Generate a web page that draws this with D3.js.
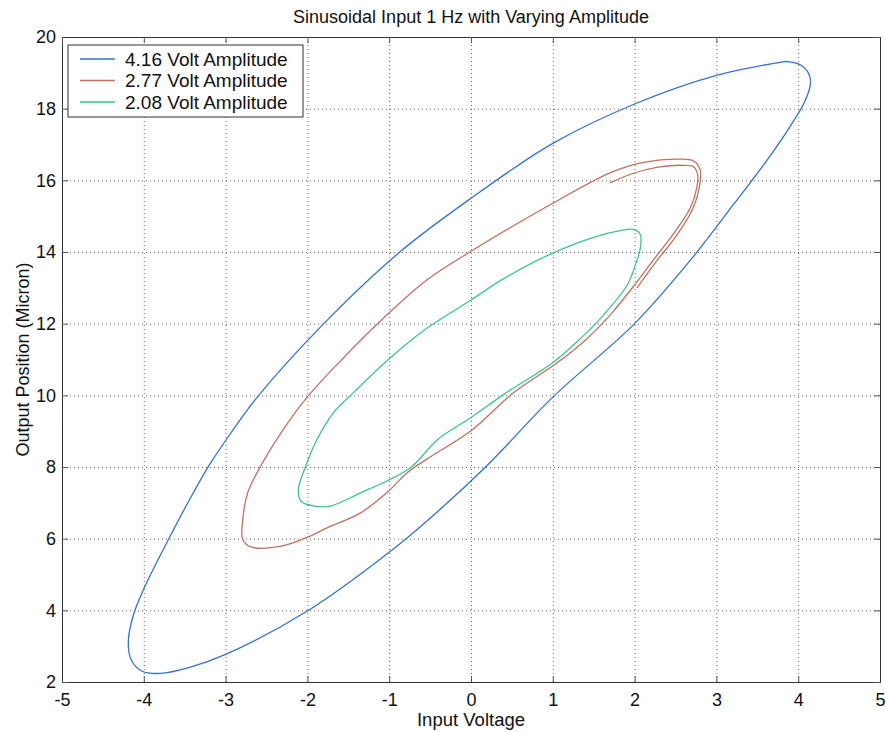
<!DOCTYPE html>
<html>
<head>
<meta charset="utf-8">
<script src="https://cdn.jsdelivr.net/npm/d3@7"></script>
<style>
  body { margin: 0; background: #fff; }
  svg text { font-family: "Liberation Sans", Arial, sans-serif; fill: #111; }
</style>
</head>
<body>
<div id="chart"></div>
<script>
// values: [input voltage, output position]
const amp416 = [[3.85,19.32],[4.03,19.22],[4.13,18.97],[4.15,18.7],[4.08,18.2],[3.9,17.5],[3.6,16.5],[3.2,15.3],[2.7,13.82],[2.0,12.0],[1.0,9.95],[0.2,8.05],[-0.5,6.57],[-1.0,5.62],[-2.0,3.98],[-3.0,2.77],[-3.45,2.4],[-3.8,2.24],[-4.02,2.3],[-4.15,2.6],[-4.19,3.1],[-4.13,3.85],[-4.0,4.6],[-3.7,5.97],[-3.45,7.05],[-3.2,8.05],[-2.95,8.9],[-2.63,9.9],[-1.8,12.0],[-0.87,14.0],[0,15.5],[1.0,17.03],[2.0,18.13],[3.0,18.93],[3.85,19.32]];

const amp277 = [[1.70,15.93],[1.95,16.17],[2.27,16.36],[2.59,16.42],[2.72,16.38],[2.77,16.17],[2.76,15.79],[2.68,15.23],[2.47,14.49],[2.23,13.78],[2.0,13.08],[1.70,12.24],[1.38,11.5],[1.05,10.9],[0.53,10.09],[0,9.01],[-0.54,8.22],[-0.78,7.84],[-1.03,7.28],[-1.35,6.72],[-1.76,6.30],[-2.02,6.02],[-2.32,5.79],[-2.69,5.77],[-2.79,5.97],[-2.79,6.53],[-2.73,7.28],[-2.57,8.03],[-2.32,8.96],[-2.02,9.90],[-1.60,10.95],[-1.03,12.24],[-0.54,13.22],[0,14.02],[1.0,15.36],[1.70,16.21],[2.11,16.50],[2.55,16.59],[2.72,16.54],[2.80,16.31],[2.79,15.79],[2.71,15.2],[2.51,14.45],[2.27,13.75],[2.03,13.0]];

const amp208 = [[1.91,14.63],[1.99,14.63],[2.07,14.49],[2.07,14.11],[2.01,13.64],[1.91,13.08],[1.62,12.24],[1.34,11.59],[1.01,10.93],[0.41,10.04],[0,9.38],[-0.40,8.78],[-0.74,7.98],[-1.03,7.61],[-1.35,7.28],[-1.72,6.91],[-1.92,6.91],[-2.08,7.05],[-2.11,7.38],[-2.02,8.03],[-1.88,8.78],[-1.68,9.52],[-1.43,10.09],[-1.0,11.02],[-0.54,11.87],[0,12.66],[0.41,13.27],[1.0,13.97],[1.62,14.49],[1.91,14.63]];

const seriesNames = ["4.16 Volt Amplitude", "2.77 Volt Amplitude", "2.08 Volt Amplitude"];
const seriesData = [amp416, amp277, amp208];
const seriesColors = ["#3272d4", "#c2705f", "#38c68c"];

const xTicks = [-5, -4, -3, -2, -1, 0, 1, 2, 3, 4, 5];
const yTicks = [2, 4, 6, 8, 10, 12, 14, 16, 18, 20];

const width = 886, height = 732;
const margin = {top: 37, right: 6, bottom: 50, left: 62};
const w = width - margin.left - margin.right,
      h = height - margin.top - margin.bottom;

const svg = d3.select("#chart").append("svg")
    .attr("width", width)
    .attr("height", height);

const g = svg.append("g")
    .attr("transform", `translate(${margin.left},${margin.top})`);

const x = d3.scaleLinear().domain([-5, 5]).range([0, w]);
const y = d3.scaleLinear().domain([2, 20]).range([h, 0]);

// dotted grid
g.append("g")
    .attr("transform", `translate(0,${h})`)
    .call(d3.axisBottom(x).tickValues(xTicks.slice(1, -1)).tickSize(-h).tickFormat(""))
    .call(s => s.select(".domain").remove())
    .selectAll("line")
    .attr("stroke", "#666")
    .attr("stroke-dasharray", "1,3");

g.append("g")
    .call(d3.axisLeft(y).tickValues(yTicks.slice(1, -1)).tickSize(-w).tickFormat(""))
    .call(s => s.select(".domain").remove())
    .selectAll("line")
    .attr("stroke", "#666")
    .attr("stroke-dasharray", "1,3");

// curves
const line = d3.line()
    .x(d => x(d[0]))
    .y(d => y(d[1]))
    .curve(d3.curveCatmullRom);

g.selectAll(".curve")
    .data(seriesData)
    .join("path")
    .attr("class", "curve")
    .attr("fill", "none")
    .attr("stroke", (d, i) => seriesColors[i])
    .attr("stroke-width", 1.3)
    .attr("d", line);

// axes with inward ticks (box on), plain hyphen minus like the original
const tickLen = 6;
const fmt = d => String(d);
const xAxis = g.append("g")
    .attr("transform", `translate(0,${h})`)
    .call(d3.axisBottom(x).tickValues(xTicks).tickSize(-tickLen).tickPadding(9).tickFormat(fmt));
const yAxis = g.append("g")
    .call(d3.axisLeft(y).tickValues(yTicks).tickSize(-tickLen).tickPadding(6).tickFormat(fmt));
const xTop = g.append("g")
    .call(d3.axisTop(x).tickValues(xTicks).tickSize(-tickLen).tickFormat(""));
const yRight = g.append("g")
    .attr("transform", `translate(${w},0)`)
    .call(d3.axisRight(y).tickValues(yTicks).tickSize(-tickLen).tickFormat(""));

[xAxis, yAxis, xTop, yRight].forEach(a => {
    a.select(".domain").attr("stroke", "#333").attr("stroke-width", 1);
    a.selectAll(".tick line").attr("stroke", "#555");
    a.selectAll("text")
        .style("font-family", "'Liberation Sans', Arial, sans-serif")
        .style("font-size", "18px")
        .attr("fill", "#111");
});
xAxis.selectAll("text").attr("dy", "0.85em");

// title and labels
svg.append("text")
    .attr("x", margin.left + w / 2)
    .attr("y", 23)
    .attr("text-anchor", "middle")
    .style("font-size", "18px")
    .text("Sinusoidal Input 1 Hz with Varying Amplitude");

svg.append("text")
    .attr("x", margin.left + w / 2)
    .attr("y", 726)
    .attr("text-anchor", "middle")
    .style("font-size", "18.5px")
    .text("Input Voltage");

svg.append("text")
    .attr("transform", `translate(29,${margin.top + h / 2}) rotate(-90)`)
    .attr("text-anchor", "middle")
    .style("font-size", "18px")
    .text("Output Position (Micron)");

// legend
const legend = g.append("g").attr("transform", "translate(6,8)");
legend.append("rect")
    .attr("width", 235)
    .attr("height", 72)
    .attr("fill", "#fff")
    .attr("stroke", "#333");

const items = legend.selectAll(".item")
    .data(seriesNames)
    .join("g")
    .attr("class", "item")
    .attr("transform", (d, i) => `translate(0,${14 + i * 21.5})`);

items.append("line")
    .attr("x1", 12).attr("x2", 47)
    .attr("stroke", (d, i) => seriesColors[i])
    .attr("stroke-width", 1.3);

items.append("text")
    .attr("x", 57)
    .attr("dy", "0.35em")
    .style("font-size", "19px")
    .text(d => d);
</script>
</body>
</html>
